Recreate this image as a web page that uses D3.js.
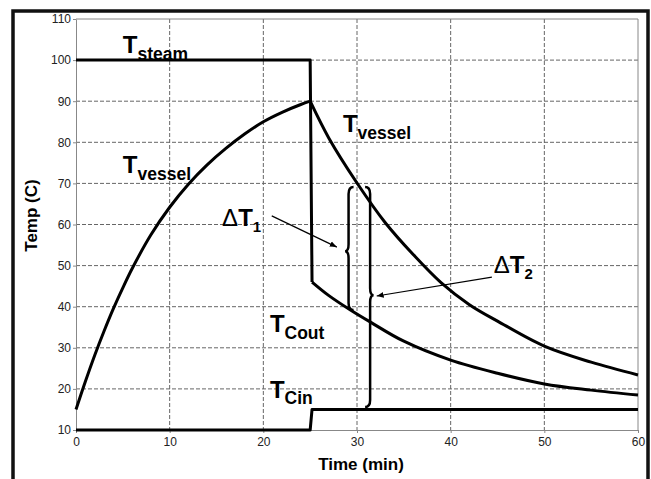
<!DOCTYPE html>
<html>
<head>
<meta charset="utf-8">
<script src="https://cdn.jsdelivr.net/npm/d3@7"></script>
<style>
  body { margin: 0; background: #fff; }
  svg { display: block; font-family: Arial, "Liberation Sans", sans-serif; }
  .grid line { stroke: #666; stroke-width: 1; stroke-dasharray: 4,2; }
  .axis path, .axis line { stroke: #888; }
  .axis text { font-size: 12px; fill: #222; }
  .series { fill: none; stroke: #000; stroke-width: 3; stroke-linejoin: round; }
  .brace { fill: none; stroke: #000; stroke-width: 2.5; }
  .arrow { stroke: #000; stroke-width: 1.2; }
  .lbl { font-weight: bold; fill: #000; }
</style>
</head>
<body>
<div id="container"></div>
<script>
//values (time in min, temperature in C)
var xTicks = [0, 10, 20, 30, 40, 50, 60];
var yTicks = [10, 20, 30, 40, 50, 60, 70, 80, 90, 100, 110];

var steamTime = [0, 25, 25.2];
var steamTemp = [100, 100, 46];

var heatTime = [0, 1, 2, 3, 4, 5, 6, 8, 10, 12, 14, 16, 18, 20, 22, 24, 25];
var heatTemp = [15, 21.8, 28.2, 34.1, 39.6, 44.6, 49.3, 57.5, 64.2, 69.8, 74.5, 78.5, 82, 85, 87.3, 89.2, 90];

var coolTime = [25, 27, 30, 33, 36, 39, 42, 45, 50, 55, 60];
var coolTemp = [90, 81, 70.1, 60.5, 52.7, 45.8, 40.5, 36.5, 30.4, 26.5, 23.4];

var coutTime = [25.2, 27, 29.3, 31.4, 35, 40, 45, 50, 55, 60];
var coutTemp = [46, 42.7, 39.2, 36.3, 31.6, 27, 23.8, 21.2, 19.7, 18.5];

var cinTime = [0, 25, 25.2, 60];
var cinTemp = [10, 10, 15, 15];

//curve labels: main letter, subscript, anchor (time, temp)
var labelMain = ["T", "T", "T", "T", "T"];
var labelSub = ["steam", "vessel", "vessel", "Cout", "Cin"];
var labelTime = [5.0, 5.0, 28.5, 20.7, 20.7];
var labelTemp = [101.7, 72.5, 82.5, 33.8, 17.8];

//delta annotations: brace (time, top, middle, bottom), arrow from -> to, label
var deltaSub = ["1", "2"];
var braceTime = [29.1, 31.4];
var braceTop = [69.1, 69.1];
var braceMid = [53.5, 42.8];
var braceBot = [39.2, 15.6];
var braceDir = [-1, 1];
var arrowFrom = [[20.9, 62.1], [44.4, 47.2]];
var arrowTo = [[27.85, 54.5], [32.1, 42.6]];
var deltaTime = [15.6, 44.6];
var deltaTemp = [59.6, 48.2];

var width = 651, height = 479;
var margin = {top: 19, right: 13, bottom: 49, left: 76};

var svg = d3.select("#container").append("svg")
    .attr("width", width)
    .attr("height", height);

var x = d3.scaleLinear().domain([0, 60]).range([margin.left, width - margin.right]);
var y = d3.scaleLinear().domain([10, 110]).range([height - margin.bottom, margin.top]);

//outer frame
svg.append("rect")
    .attr("x", 13).attr("y", 11)
    .attr("width", 635).attr("height", 480)
    .attr("fill", "none")
    .attr("stroke", "#111")
    .attr("stroke-width", 3.5);

//grid
var grid = svg.append("g").attr("class", "grid");
grid.selectAll(".gx")
    .data(xTicks.slice(1, -1))
    .enter().append("line")
    .attr("x1", function(d){ return x(d); })
    .attr("x2", function(d){ return x(d); })
    .attr("y1", y(110)).attr("y2", y(10));
grid.selectAll(".gy")
    .data(yTicks.slice(1, -1))
    .enter().append("line")
    .attr("x1", x(0)).attr("x2", x(60))
    .attr("y1", function(d){ return y(d); })
    .attr("y2", function(d){ return y(d); });

//plot border (top, right)
svg.append("path")
    .attr("d", "M" + x(0) + "," + y(110) + "H" + x(60) + "V" + y(10))
    .attr("fill", "none")
    .attr("stroke", "#888");

//axes
svg.append("g")
    .attr("class", "axis")
    .attr("transform", "translate(0," + y(10) + ")")
    .call(d3.axisBottom(x).tickValues(xTicks).tickSize(3).tickPadding(4).tickSizeOuter(0));
svg.append("g")
    .attr("class", "axis")
    .attr("transform", "translate(" + x(0) + ",0)")
    .call(d3.axisLeft(y).tickValues(yTicks).tickSize(3).tickPadding(2).tickSizeOuter(0));

//series
var line = d3.line()
    .x(function(d){ return x(d[0]); })
    .y(function(d){ return y(d[1]); })
    .curve(d3.curveCatmullRom.alpha(0.5));
var lineStraight = d3.line()
    .x(function(d){ return x(d[0]); })
    .y(function(d){ return y(d[1]); });

function pairs(t, v){ return t.map(function(d, i){ return [d, v[i]]; }); }

svg.append("path").attr("class", "series").attr("d", lineStraight(pairs(steamTime, steamTemp)));
svg.append("path").attr("class", "series").attr("d", lineStraight(pairs(cinTime, cinTemp)));
svg.append("path").attr("class", "series").attr("d", line(pairs(heatTime, heatTemp)));
svg.append("path").attr("class", "series").attr("d", line(pairs(coolTime, coolTemp)));
svg.append("path").attr("class", "series").attr("d", line(pairs(coutTime, coutTemp)));

//curve labels
labelMain.forEach(function(m, i){
    var t = svg.append("text")
        .attr("class", "lbl")
        .attr("x", x(labelTime[i]))
        .attr("y", y(labelTemp[i]));
    t.append("tspan").style("font-size", "24px").text(m);
    t.append("tspan").style("font-size", "17.5px").attr("dy", 6.5).text(labelSub[i]);
});

//braces
function bracePath(bx, top, mid, bot, dir){
    var p = d3.path(), w = 5, h = 7, c = 3.5;
    p.moveTo(bx - dir * w, top);
    p.quadraticCurveTo(bx, top, bx, top + h);
    p.lineTo(bx, mid - c * 2);
    p.quadraticCurveTo(bx, mid, bx + dir * c, mid);
    p.quadraticCurveTo(bx, mid, bx, mid + c * 2);
    p.lineTo(bx, bot - h);
    p.quadraticCurveTo(bx, bot, bx - dir * w, bot);
    return p.toString();
}

svg.append("defs").append("marker")
    .attr("id", "head")
    .attr("viewBox", "0 0 10 10")
    .attr("refX", 10).attr("refY", 5)
    .attr("markerWidth", 7).attr("markerHeight", 7)
    .attr("markerUnits", "userSpaceOnUse")
    .attr("orient", "auto")
    .append("path")
    .attr("d", "M0,1L10,5L0,9Z")
    .attr("fill", "#000");

deltaSub.forEach(function(s, i){
    svg.append("path")
        .attr("class", "brace")
        .attr("d", bracePath(x(braceTime[i]), y(braceTop[i]), y(braceMid[i]), y(braceBot[i]), braceDir[i]));
    svg.append("line")
        .attr("class", "arrow")
        .attr("x1", x(arrowFrom[i][0])).attr("y1", y(arrowFrom[i][1]))
        .attr("x2", x(arrowTo[i][0])).attr("y2", y(arrowTo[i][1]))
        .attr("marker-end", "url(#head)");
    var t = svg.append("text")
        .attr("x", x(deltaTime[i]))
        .attr("y", y(deltaTemp[i]))
        .style("fill", "#000");
    t.append("tspan").style("font-size", "24px").style("font-weight", "normal").text("Δ");
    t.append("tspan").style("font-size", "24px").style("font-weight", "bold").text("T");
    t.append("tspan").style("font-size", "15px").style("font-weight", "bold").attr("dy", 6).text(s);
});

//axis titles
svg.append("text")
    .attr("class", "lbl")
    .attr("x", x(30) + 4)
    .attr("y", 470)
    .attr("text-anchor", "middle")
    .style("font-size", "17px")
    .text("Time (min)");
svg.append("text")
    .attr("class", "lbl")
    .attr("transform", "translate(37," + (y(60) - 9) + ") rotate(-90)")
    .attr("text-anchor", "middle")
    .style("font-size", "17px")
    .text("Temp (C)");
</script>
</body>
</html>
